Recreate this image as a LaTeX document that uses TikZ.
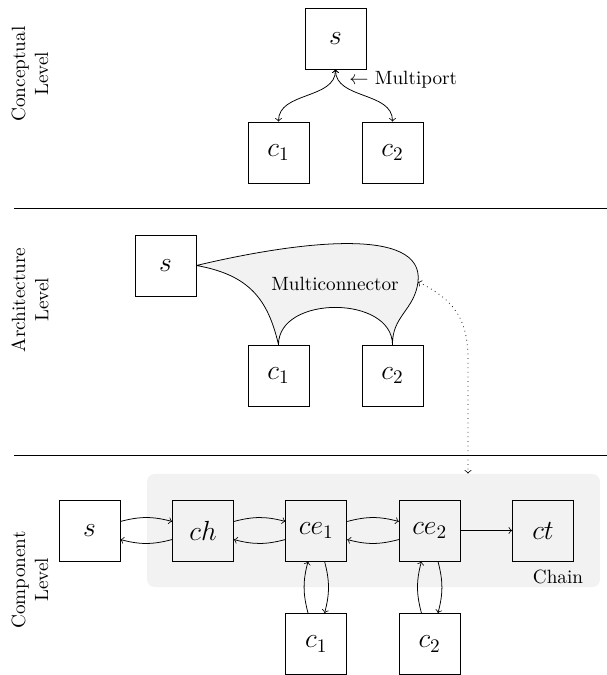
\documentclass[tikz,border=0pt]{standalone}
\usetikzlibrary{calc}
\begin{document}
\begin{tikzpicture}[x=0.521pt,y=-0.521pt,
  box/.style={draw, fill=white, minimum size=31.8pt, inner sep=0pt, font=\Large},
  gbox/.style={draw, fill=gray!10, minimum size=31.8pt, inner sep=0pt, font=\Large},
  levellabel/.style={rotate=90, align=center, inner sep=0pt},
  separator/.style={line width=0.5pt},
  conn/.style={->},
  biconn/.style={<->},
  chainbox/.style={fill=gray!10, rounded corners=4pt, minimum width=236pt, minimum height=58.9pt, inner sep=0pt},
  mcfill/.style={draw, fill=gray!10, line join=round}
]
\useasboundingbox (0,0) rectangle (607,675);

% level separators and labels
\draw[separator] (14,208) -- (607,208);
\draw[separator] (14,455) -- (607,455);
\node[levellabel] (lconc) at (30,74) {Conceptual\\Level};
\node[levellabel] (larch) at (30,300) {Architecture\\Level};
\node[levellabel] (lcomp) at (30,580) {Component\\Level};

% conceptual level
\node[box] (s1) at (335.5,38.5) {$s$};
\node[box] (c11) at (278.5,152.5) {$c_1$};
\node[box] (c12) at (392.5,152.5) {$c_2$};
\draw[biconn] (s1.south) to[out=-90,in=90] (c11.north);
\draw[biconn] (s1.south) to[out=-90,in=90] (c12.north);
\node[anchor=west, inner sep=0pt] (mport) at (349,80) {$\leftarrow$ Multiport};

% architecture level
\node[box] (s2) at (165.5,265.5) {$s$};
\node[box] (c21) at (278.5,375.5) {$c_1$};
\node[box] (c22) at (392.5,375.5) {$c_2$};
\coordinate (mcport) at (418,282);
\draw[mcfill] (s2.east) .. controls (295,242) and (425,225) .. (mcport)
  .. controls (414.5,310) and (392,316) .. (c22.north)
  .. controls (392,295) and (278.5,295) .. (c21.north)
  .. controls (268,300) and (250,275) .. (s2.east) -- cycle;
\node (mclabel) at (335,284) {Multiconnector};

% component level
\node[chainbox] (chain) at (373.5,530.5) {};
\node[anchor=center] (chainlabel) at (558,577) {Chain};
\node[box] (s3) at (89.5,530.5) {$s$};
\node[gbox] (ch) at (203,530.5) {$ch$};
\node[gbox] (ce1) at (316.3,530.5) {$ce_1$};
\node[gbox] (ce2) at (429.7,530.5) {$ce_2$};
\node[gbox] (ct) at (543,530.5) {$ct$};
\node[box] (c31) at (316.3,644) {$c_1$};
\node[box] (c32) at (429.7,644) {$c_2$};

\foreach \a/\b in {s3/ch, ch/ce1, ce1/ce2} {
  \draw[conn] ([yshift=4.7pt]\a.east) to[bend left=15] ([yshift=4.7pt]\b.west);
  \draw[conn] ([yshift=-4.7pt]\b.west) to[bend left=15] ([yshift=-4.7pt]\a.east);
}
\draw[conn] (ce2) -- (ct);
\foreach \a/\b in {ce1/c31, ce2/c32} {
  \draw[conn] ([xshift=-4.3pt]\b.north) to[bend left=15] ([xshift=-4.3pt]\a.south);
  \draw[conn] ([xshift=4.3pt]\a.south) to[bend left=15] ([xshift=4.3pt]\b.north);
}

% link from the multiconnector to the chain
\coordinate (chainport) at (chain.north -| 468,0);
\draw[dotted, biconn] (mcport) .. controls (455,300) and (468,320) .. (468,360) -- (chainport);
\end{tikzpicture}
\end{document}
